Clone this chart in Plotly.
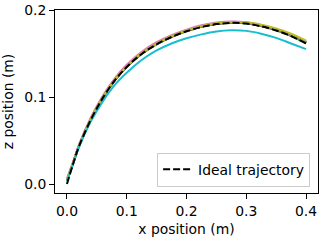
import plotly.graph_objects as go

# Shared x samples (m)
x_pos = [0.0, 0.01, 0.02, 0.04, 0.06, 0.08, 0.10, 0.125, 0.15, 0.175, 0.20,
         0.225, 0.25, 0.275, 0.30, 0.325, 0.35, 0.375, 0.40]

# Ideal trajectory z (m)
z_ideal = [0.0, 0.0225, 0.043, 0.074, 0.099, 0.119, 0.1345, 0.1495, 0.1605, 0.169,
           0.1755, 0.1805, 0.1838, 0.1852, 0.1845, 0.1812, 0.1765, 0.170, 0.1615]

# Measured trials (tab10 colour order), z (m)
z_trials = {
    "#1f77b4": [0.004, 0.0235, 0.0435, 0.0745, 0.0995, 0.1195, 0.135, 0.150, 0.161, 0.1695,
                0.176, 0.181, 0.1843, 0.1856, 0.1849, 0.1816, 0.1769, 0.1704, 0.162],
    "#ff7f0e": [0.005, 0.0235, 0.0435, 0.0745, 0.0995, 0.1195, 0.135, 0.150, 0.161, 0.1695,
                0.176, 0.181, 0.1843, 0.1857, 0.1850, 0.1817, 0.1771, 0.1707, 0.1625],
    "#2ca02c": [0.004, 0.023, 0.043, 0.074, 0.099, 0.119, 0.1345, 0.1495, 0.1605, 0.169,
                0.1755, 0.1806, 0.1839, 0.1853, 0.1847, 0.1815, 0.1768, 0.1703, 0.1618],
    "#d62728": [0.005, 0.024, 0.044, 0.075, 0.100, 0.120, 0.1355, 0.1505, 0.1615, 0.170,
                0.1765, 0.1815, 0.1848, 0.1862, 0.1855, 0.1822, 0.1775, 0.171, 0.1625],
    "#9467bd": [0.004, 0.0235, 0.0435, 0.0745, 0.0995, 0.1195, 0.135, 0.150, 0.161, 0.1695,
                0.176, 0.181, 0.1843, 0.1857, 0.1851, 0.1819, 0.1773, 0.1710, 0.163],
    "#8c564b": [0.005, 0.0235, 0.0435, 0.0745, 0.0995, 0.1195, 0.135, 0.150, 0.161, 0.1695,
                0.176, 0.181, 0.1843, 0.1857, 0.1851, 0.1820, 0.1775, 0.1713, 0.1632],
    "#e377c2": [0.006, 0.025, 0.045, 0.0765, 0.1015, 0.1215, 0.137, 0.152, 0.163, 0.1712,
                0.1775, 0.1825, 0.1856, 0.1868, 0.186, 0.1828, 0.178, 0.1715, 0.1635],
    "#7f7f7f": [0.004, 0.0235, 0.0435, 0.0745, 0.0995, 0.1195, 0.135, 0.150, 0.161, 0.1695,
                0.176, 0.181, 0.1843, 0.1857, 0.1852, 0.1821, 0.1777, 0.1716, 0.1638],
    "#bcbd22": [0.005, 0.024, 0.044, 0.075, 0.100, 0.120, 0.1355, 0.1505, 0.1613, 0.170,
                0.1765, 0.1815, 0.1848, 0.1862, 0.1858, 0.1830, 0.1787, 0.1727, 0.1648],
    "#17becf": [0.003, 0.0225, 0.042, 0.072, 0.095, 0.114, 0.128, 0.1425, 0.1535, 0.1615,
                0.1675, 0.172, 0.1753, 0.1767, 0.176, 0.1728, 0.168, 0.1615, 0.155],
}

x_ticks = [0.0, 0.1, 0.2, 0.3, 0.4]
z_ticks = [0.0, 0.1, 0.2]

font = dict(family="DejaVu Sans", size=13.9, color="black")

fig = go.Figure()
for color, zs in z_trials.items():
    fig.add_trace(go.Scatter(x=x_pos, y=zs, mode="lines", showlegend=False,
                             line=dict(color=color, width=2, shape="spline")))
fig.add_trace(go.Scatter(x=x_pos, y=z_ideal, mode="lines", name="Ideal trajectory",
                         line=dict(color="black", width=2, dash="7px,3px", shape="spline")))

axis_common = dict(showline=True, linecolor="black", linewidth=1, mirror=True,
                   ticks="outside", ticklen=5, tickwidth=1, tickcolor="black",
                   showgrid=False, zeroline=False, tickfont=font)

fig.update_layout(
    width=320, height=240,
    margin=dict(l=55, r=2, t=10, b=47),
    paper_bgcolor="white", plot_bgcolor="white",
    font=font,
    xaxis=dict(range=[-0.02, 0.42], tickvals=x_ticks, ticktext=[f"{v:.1f}" for v in x_ticks],
               title=dict(text="x position (m)", font=font, standoff=6), **axis_common),
    yaxis=dict(range=[-0.0103, 0.2], tickvals=z_ticks, ticktext=[f"{v:.1f}" for v in z_ticks],
               title=dict(text="z position (m)", font=font, standoff=8), **axis_common),
    legend=dict(x=0.97, y=0.035, xanchor="right", yanchor="bottom",
                bgcolor="rgba(255,255,255,0.8)", bordercolor="#cccccc", borderwidth=1,
                font=font, itemwidth=30, tracegroupgap=0),
)

fig.write_html("out.html", config={"displayModeBar": False},
               post_script="document.body.style.margin='0';document.body.style.overflow='hidden';")
